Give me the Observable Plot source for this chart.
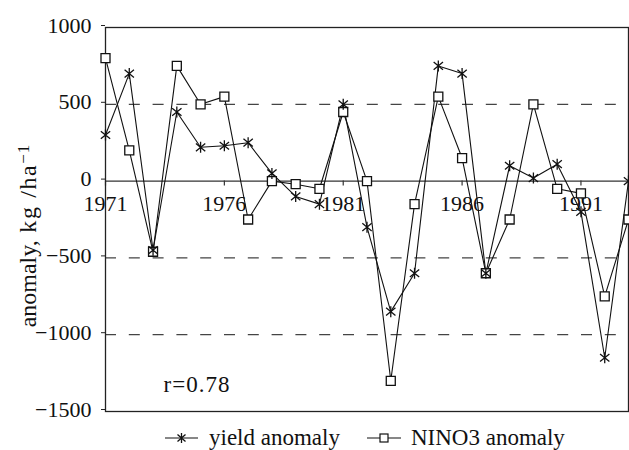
<!DOCTYPE html>
<html>
<head>
<meta charset="utf-8">
<script src="https://cdn.jsdelivr.net/npm/d3@7"></script>
<script src="https://cdn.jsdelivr.net/npm/@observablehq/plot@0.6"></script>
<style>
  html, body { margin: 0; padding: 0; background: #fff; }
  #legend { display: flex; align-items: center; height: 24px; padding-left: 165px;
    font-family: "Liberation Serif", serif; font-size: 23px; color: #111; }
  #legend .item { display: flex; align-items: center; }
  #legend svg { display: block; }
  #chart svg text { font-family: "Liberation Serif", serif; }
</style>
</head>
<body>
<div id="chart"></div>
<div id="legend">
  <div class="item">
    <svg width="33" height="14"><line x1="0" y1="7" x2="33" y2="7" stroke="#111" stroke-width="1.2"/>
      <path d="M12.5,3.5L20.5,10.5M12.5,10.5L20.5,3.5M16.5,2L16.5,12" stroke="#111" stroke-width="1.3" fill="none"/></svg>
    <span style="margin-left:11px">yield anomaly</span>
  </div>
  <div class="item" style="margin-left:27px">
    <svg width="34" height="14"><line x1="0" y1="7" x2="34" y2="7" stroke="#111" stroke-width="1.2"/>
      <rect x="13" y="3" width="8" height="8" fill="#fff" stroke="#111" stroke-width="1.2"/></svg>
    <span style="margin-left:10px">NINO3 anomaly</span>
  </div>
</div>
<script>
const years = [1971,1972,1973,1974,1975,1976,1977,1978,1979,1980,1981,1982,1983,1984,1985,1986,1987,1988,1989,1990,1991,1992,1993];
const yieldAnomaly = [300,700,-450,450,220,230,250,50,-100,-150,500,-300,-850,-600,750,700,-600,100,20,110,-200,-1150,0];
const nino3Anomaly = [800,200,-460,750,500,550,-250,0,-20,-50,450,0,-1300,-150,550,150,-600,-250,500,-50,-80,-750,-250];
const xTicks = [1971,1976,1981,1986,1991];
const yTicks = [-1500,-1000,-500,0,500,1000];
const gridLines = [-1000,-500,500];
const corrLabel = "r=0.78";

const yieldData = years.map((year, i) => ({year, value: yieldAnomaly[i]}));
const ninoData = years.map((year, i) => ({year, value: nino3Anomaly[i]}));

const asterisk = {
  draw(ctx, size) {
    const r = Math.sqrt(size / Math.PI);
    const a = r * 0.85, b = r * 0.7;
    ctx.moveTo(-a, -b); ctx.lineTo(a, b);
    ctx.moveTo(-a, b); ctx.lineTo(a, -b);
    ctx.moveTo(0, -r); ctx.lineTo(0, r);
  }
};
const square = {
  draw(ctx, size) {
    const r = Math.sqrt(size / Math.PI);
    ctx.rect(-r, -r, 2 * r, 2 * r);
  }
};

const serif = "Liberation Serif, serif";
const ink = "#111";
const chart = Plot.plot({
  width: 629,
  height: 426,
  marginLeft: 105,
  marginRight: 1,
  marginTop: 27,
  marginBottom: 15,
  style: {fontFamily: serif, fontSize: "22px", background: "#fff", color: ink},
  x: {type: "linear", domain: [1971, 1993], axis: null},
  y: {domain: [-1500, 1000], axis: null},
  marks: [
    Plot.ruleY(gridLines, {stroke: "#444", strokeWidth: 1.2, strokeDasharray: "11,12.8"}),
    Plot.ruleY([0], {stroke: "#333", strokeWidth: 1.3}),
    Plot.ruleX(xTicks, {x: d => d, y1: 0, y2: 0, insetBottom: -5, stroke: "#333", strokeWidth: 1.2}),
    Plot.text(xTicks, {x: d => d, y: 0, text: d => String(d), dy: 14, lineAnchor: "top", fontSize: 22, fontFamily: serif, fill: ink}),
    Plot.axisY(yTicks, {anchor: "left", tickSize: 4, tickPadding: 10, fontSize: 22, fontFamily: serif, fontVariant: "normal",
      tickFormat: d => d < 0 ? "\u2212" + (-d) : String(d), label: null, stroke: "#222", fill: ink, dy: -2}),
    Plot.frame({stroke: "#222", strokeWidth: 1.3}),
    Plot.line(yieldData, {x: "year", y: "value", stroke: ink, strokeWidth: 1.1}),
    Plot.line(ninoData, {x: "year", y: "value", stroke: ink, strokeWidth: 1.1}),
    Plot.dot(ninoData, {x: "year", y: "value", symbol: square, r: 4.5, stroke: ink, fill: "#fff", strokeWidth: 1.3}),
    Plot.dot(yieldData, {x: "year", y: "value", symbol: asterisk, r: 5.5, stroke: ink, fill: "none", strokeWidth: 1.3}),
    Plot.text([corrLabel], {frameAnchor: "bottom-left", dx: 58, dy: -20, textAnchor: "start", lineAnchor: "bottom", fontSize: 23, fontFamily: serif, fill: ink}),
    Plot.text(["anomaly,"], {frameAnchor: "left", rotate: -90, dx: -77, dy: 16, textAnchor: "middle", lineAnchor: "middle", fontSize: 24, fontFamily: serif, fill: ink})
  ]
});
document.getElementById("chart").appendChild(chart);

// unit part of the y-axis label with the superscript −1
const lbl = d3.select(chart).selectAll("text").filter(function() { return this.textContent === "anomaly,"; });
lbl.append("tspan").attr("letter-spacing", "1.6px").text(" kg /ha");
lbl.append("tspan").attr("dy", "-0.45em").attr("font-size", "17px").attr("letter-spacing", "1px").text("\u22121");
d3.select(chart).selectAll("text").filter(function() { return this.textContent === corrLabel; }).attr("letter-spacing", "1px");
</script>
</body>
</html>
